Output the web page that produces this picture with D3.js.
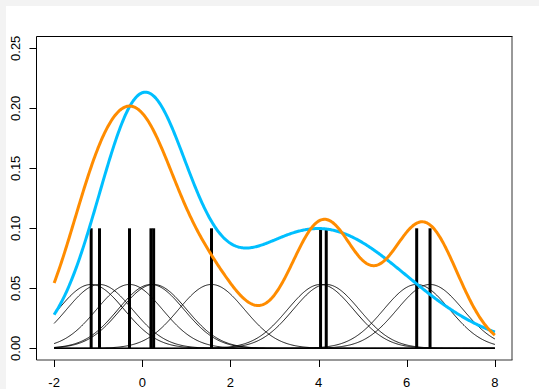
<!DOCTYPE html>
<html>
<head>
<meta charset="utf-8">
<script src="https://cdn.jsdelivr.net/npm/d3@7"></script>
<style>
  html, body { margin: 0; padding: 0; background: #f3f3f3; }
  svg { display: block; }
  text { font-family: "Liberation Sans", Arial, sans-serif; font-size: 13px; fill: #000; }
</style>
</head>
<body>
<script>
// Sample observations (marked by the vertical bars)
const samples = [-1.16, -0.97, -0.29, 0.197, 0.258, 1.571, 4.045, 4.174, 6.226, 6.529];
// Gaussian kernel bandwidth
const bandwidth = 0.75;
// Underlying two-component normal mixture
const mixMeans = [0, 4];
const mixSds = [1, 2];
const mixWeights = [0.5, 0.5];
// Axis ticks
const xTicks = [-2, 0, 2, 4, 6, 8];
const yTicks = [0, 0.05, 0.10, 0.15, 0.20, 0.25];
// Evaluation range and bar height
const xRange = [-2, 8];
const barHeight = 0.1;

const W = 539, H = 389;
const svg = d3.select("body").append("svg").attr("width", W).attr("height", H);
svg.append("rect").attr("x", 6).attr("y", 6).attr("width", W - 6).attr("height", H - 6).attr("fill", "#fff");

const x = d3.scaleLinear().domain([-2.4, 8.4]).range([36.5, 512.5]);
const y = d3.scaleLinear().domain([-0.01, 0.26]).range([360.3, 36.3]);

const dnorm = (v, m, s) => Math.exp(-0.5 * ((v - m) / s) ** 2) / (s * Math.sqrt(2 * Math.PI));
const n = samples.length;
const grid = d3.range(0, 501).map(i => xRange[0] + (xRange[1] - xRange[0]) * i / 500);

const line = d3.line().x(d => x(d[0])).y(d => y(d[1]));

// baseline at zero
svg.append("line").attr("x1", x(xRange[0])).attr("x2", x(xRange[1]))
  .attr("y1", y(0)).attr("y2", y(0)).attr("stroke", "#8a8a8a").attr("stroke-width", 1);

// individual kernels
const kg = svg.append("g");
samples.forEach(s => {
  kg.append("path")
    .attr("d", line(grid.map(v => [v, dnorm(v, s, bandwidth) / n])))
    .attr("fill", "none").attr("stroke", "#000").attr("stroke-width", 0.9);
});

// sample bars
svg.append("g").selectAll("line").data(samples).join("line")
  .attr("x1", d => x(d)).attr("x2", d => x(d))
  .attr("y1", y(0)).attr("y2", y(barHeight))
  .attr("stroke", "#000").attr("stroke-width", 3);

// mixture density
const mix = grid.map(v => [v, d3.sum(mixMeans, (m, i) => mixWeights[i] * dnorm(v, m, mixSds[i]))]);
svg.append("path").attr("d", line(mix)).attr("fill", "none")
  .attr("stroke", "#00BFFF").attr("stroke-width", 3);

// kernel density estimate
const kde = grid.map(v => [v, d3.sum(samples, s => dnorm(v, s, bandwidth)) / n]);
svg.append("path").attr("d", line(kde)).attr("fill", "none")
  .attr("stroke", "#FF8C00").attr("stroke-width", 3);

// frame
const fr = svg.append("g").attr("stroke", "#000").attr("stroke-width", 1);
fr.append("line").attr("x1", 36.5).attr("x2", 512.5).attr("y1", 36.5).attr("y2", 36.5);
fr.append("line").attr("x1", 36.5).attr("x2", 36.5).attr("y1", 36.5).attr("y2", 360);
fr.append("line").attr("x1", 36.5).attr("x2", 512.5).attr("y1", 360).attr("y2", 360).attr("stroke", "#333");
fr.append("line").attr("x1", 512).attr("x2", 512).attr("y1", 36.5).attr("y2", 360).attr("stroke", "#333");

// x axis
const xa = svg.append("g");
xTicks.forEach(t => {
  xa.append("line").attr("x1", Math.round(x(t)) + 0.5).attr("x2", Math.round(x(t)) + 0.5)
    .attr("y1", 360).attr("y2", 367).attr("stroke", "#000");
  xa.append("text").attr("x", x(t)).attr("y", 387).attr("text-anchor", "middle").text(t);
});

// y axis
const ya = svg.append("g");
yTicks.forEach(t => {
  const py = Math.round(y(t)) + 0.5;
  ya.append("line").attr("x1", 29.5).attr("x2", 36.5).attr("y1", py).attr("y2", py).attr("stroke", "#000");
  ya.append("text").attr("transform", `translate(20,${y(t)}) rotate(-90)`)
    .attr("text-anchor", "middle").text(d3.format(".2f")(t));
});
</script>
</body>
</html>
